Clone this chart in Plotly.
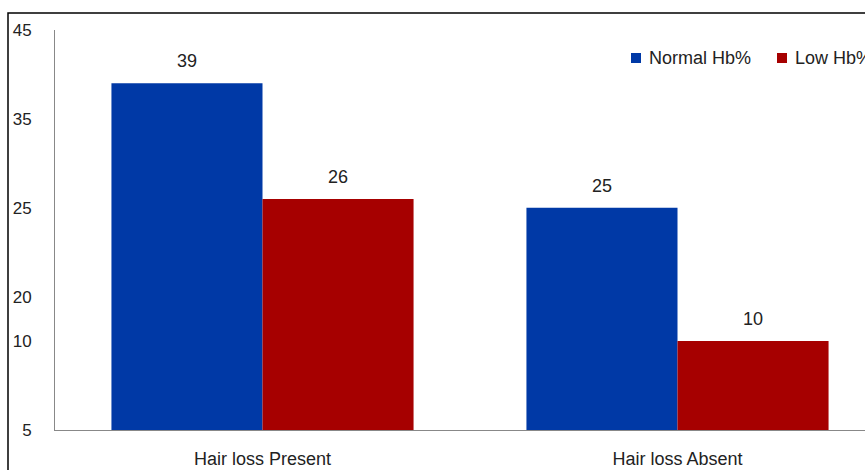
import plotly.graph_objects as go

categories = ["Hair loss Present", "Hair loss Absent"]
normal_hb = [39, 25]
low_hb = [26, 10]
series_names = ["Normal Hb%", "Low Hb%"]
tick_vals = [0, 10, 15, 25, 35, 45]
tick_text = ["5", "10", "20", "25", "35", "45"]

blue = "#0039A6"
red = "#A60000"
font_family = "Liberation Sans, Arial, sans-serif"
text_color = "#222222"
x_pos = list(range(len(categories)))

# plot-area geometry (pixels)
L, T, B, W = 55, 30, 40, 810
H = 470 - T - B


def px(x):
    return (x - L) / W


def py(y):
    return (470 - B - y) / H


fig = go.Figure()
fig.add_trace(go.Bar(x=x_pos, y=normal_hb, name=series_names[0], marker=dict(color=blue, line=dict(width=0))))
fig.add_trace(go.Bar(x=x_pos, y=low_hb, name=series_names[1], marker=dict(color=red, line=dict(width=0))))

bargap = 0.272
half = (1 - bargap) / 4
annotations = []
for i in x_pos:
    for vals, off in ((normal_hb, -half), (low_hb, half)):
        annotations.append(dict(x=i + off, y=vals[i], text=str(vals[i]), showarrow=False,
                                yanchor="bottom", yshift=10, xref="x", yref="y",
                                font=dict(size=18, color=text_color, family=font_family)))

# manual legend (the original is cut off by the right edge)
legend_items = [(series_names[0], blue, 631), (series_names[1], red, 777)]
shapes = [dict(type="rect", xref="paper", yref="paper",
               x0=px(8), x1=1.2, y0=-0.3, y1=py(13),
               line=dict(color="black", width=1.5), fillcolor="rgba(0,0,0,0)", layer="below")]
for name, col, sx in legend_items:
    shapes.append(dict(type="rect", xref="paper", yref="paper",
                       x0=px(sx), x1=px(sx + 10), y0=py(63), y1=py(53),
                       line=dict(width=0), fillcolor=col))
    annotations.append(dict(x=px(sx + 16), y=py(58), xref="paper", yref="paper",
                            text=name, showarrow=False, xanchor="left", yanchor="middle",
                            font=dict(size=18, color=text_color, family=font_family)))

fig.update_layout(
    width=865, height=470,
    margin=dict(l=L, r=0, t=T, b=B),
    paper_bgcolor="white", plot_bgcolor="white",
    barmode="group", bargap=bargap, bargroupgap=0,
    font=dict(family=font_family, size=18, color=text_color),
    showlegend=False,
    annotations=annotations,
    shapes=shapes,
    xaxis=dict(range=[-0.5, -0.5 + 810 / 415], tickvals=x_pos, ticktext=categories,
               showgrid=False, zeroline=False, showline=True, linecolor="#888888", linewidth=1,
               ticks="", ticklabelstandoff=12, tickfont=dict(size=18), fixedrange=True,
               automargin=False),
    yaxis=dict(range=[0, 45], tickvals=tick_vals, ticktext=tick_text, showgrid=False,
               zeroline=False, showline=True, linecolor="#888888", linewidth=1,
               ticks="", ticklabelstandoff=19, tickfont=dict(size=17), fixedrange=True,
               automargin=False),
)

fig.write_html("out.html")
